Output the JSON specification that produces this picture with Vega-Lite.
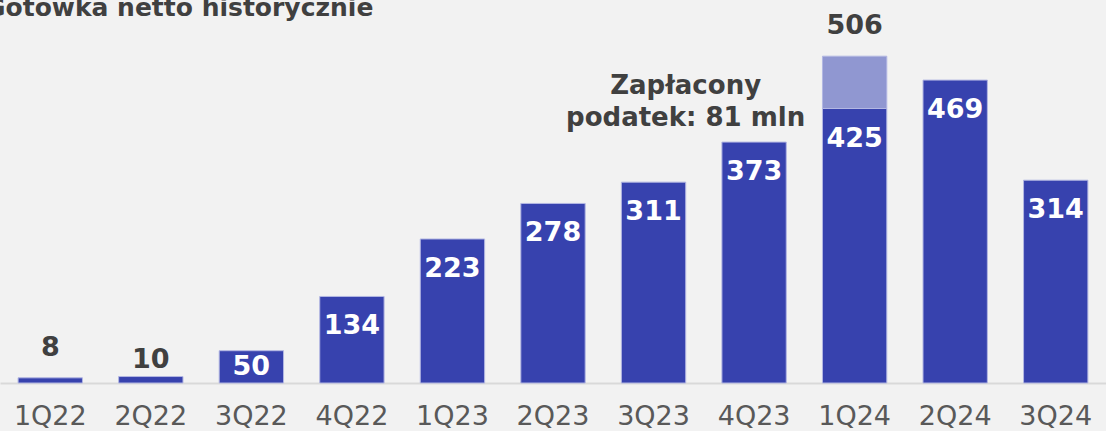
{
  "$schema": "https://vega.github.io/schema/vega-lite/v6.json",
  "width": 1106,
  "height": 383,
  "autosize": "none",
  "padding": {"left": 0, "top": 0, "right": 0, "bottom": 48},
  "background": "#f2f2f2",
  "config": {"view": {"stroke": null}, "font": "DejaVu Sans"},
  "title": {"text": "Gotówka netto historycznie", "anchor": "start", "frame": "group", "orient": "top", "offset": -27, "baseline": "alphabetic", "dx": -15, "dy": 14, "fontSize": 25, "font": "DejaVu Sans", "fontWeight": "bold", "color": "#404040"},
  "data": {"values": [
    {"quarter": "1Q22", "value": 8, "part": "base"},
    {"quarter": "2Q22", "value": 10, "part": "base"},
    {"quarter": "3Q22", "value": 50, "part": "base"},
    {"quarter": "4Q22", "value": 134, "part": "base"},
    {"quarter": "1Q23", "value": 223, "part": "base"},
    {"quarter": "2Q23", "value": 278, "part": "base"},
    {"quarter": "3Q23", "value": 311, "part": "base"},
    {"quarter": "4Q23", "value": 373, "part": "base"},
    {"quarter": "1Q24", "value": 425, "part": "base"},
    {"quarter": "1Q24", "value": 81, "part": "tax"},
    {"quarter": "2Q24", "value": 469, "part": "base"},
    {"quarter": "3Q24", "value": 314, "part": "base"}
  ]},
  "encoding": {
    "x": {"field": "quarter", "type": "nominal", "sort": null,
      "scale": {"paddingInner": 0.36, "paddingOuter": 0.18},
      "axis": {"title": null, "ticks": false, "domainColor": "#d9d9d9", "domainWidth": 2, "labelFontSize": 27, "labelColor": "#595959", "labelFont": "DejaVu Sans", "labelPadding": 33, "labelBaseline": "middle", "labelAngle": 0}}
  },
  "layer": [
    {
      "mark": {"type": "bar", "stroke": "#b3b7e3", "strokeWidth": 1},
      "encoding": {
        "y": {"field": "value", "type": "quantitative", "stack": "zero", "scale": {"domain": [0, 593], "nice": false}, "axis": null},
        "color": {"field": "part", "type": "nominal", "scale": {"domain": ["base", "tax"], "range": ["#3742ae", "#9097d1"]}, "legend": null},
        "order": {"field": "part", "sort": "ascending"}
      }
    },
    {
      "transform": [{"filter": "datum.part == 'base' && datum.value >= 100"}],
      "mark": {"type": "text", "color": "white", "fontWeight": "bold", "fontSize": 27, "baseline": "middle", "dy": 30},
      "encoding": {
        "y": {"field": "value", "type": "quantitative"},
        "text": {"field": "value", "type": "quantitative"}
      }
    },
    {
      "transform": [{"filter": "datum.quarter == '3Q22'"}],
      "mark": {"type": "text", "color": "white", "fontWeight": "bold", "fontSize": 27, "baseline": "middle", "dy": 16},
      "encoding": {
        "y": {"field": "value", "type": "quantitative"},
        "text": {"field": "value", "type": "quantitative"}
      }
    },
    {
      "transform": [
        {"aggregate": [{"op": "sum", "field": "value", "as": "total"}], "groupby": ["quarter"]},
        {"filter": "datum.quarter == '1Q22' || datum.quarter == '1Q24'"}
      ],
      "mark": {"type": "text", "color": "#404040", "fontWeight": "bold", "fontSize": 27, "baseline": "middle", "dy": -30},
      "encoding": {
        "y": {"field": "total", "type": "quantitative"},
        "text": {"field": "total", "type": "quantitative"}
      }
    },
    {
      "transform": [{"filter": "datum.quarter == '2Q22'"}],
      "mark": {"type": "text", "color": "#404040", "fontWeight": "bold", "fontSize": 27, "baseline": "middle", "dy": -17},
      "encoding": {
        "y": {"field": "value", "type": "quantitative"},
        "text": {"field": "value", "type": "quantitative"}
      }
    },
    {
      "transform": [{"filter": "datum.part == 'tax'"}],
      "mark": {"type": "text", "color": "#404040", "fontWeight": "bold", "fontSize": 26, "align": "center", "baseline": "middle", "dx": -169, "dy": 30, "lineHeight": 32, "text": ["Zapłacony", "podatek: 81 mln"]},
      "encoding": {
        "y": {"datum": 506, "type": "quantitative"}
      }
    }
  ]
}
